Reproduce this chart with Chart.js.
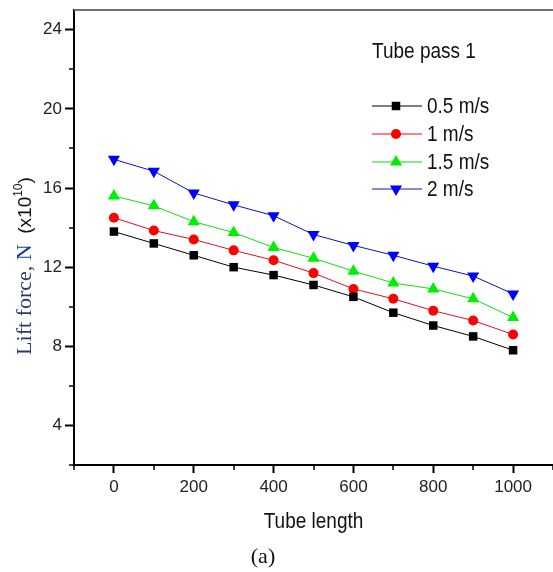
<!DOCTYPE html>
<html>
<head>
<meta charset="utf-8">
<script src="https://cdn.jsdelivr.net/npm/chart.js@4/dist/chart.umd.min.js"></script>
<style>
html,body{margin:0;padding:0;background:#fff;}
#wrap{width:553px;height:572px;position:relative;}
</style>
</head>
<body>
<div id="wrap"><canvas id="c" width="553" height="572"></canvas></div>
<script>
// ---- data ----
const tubeLength = [0, 100, 200, 300, 400, 500, 600, 700, 800, 900, 1000];
const seriesNames = ['0.5 m/s', '1 m/s', '1.5 m/s', '2 m/s'];
const v05 = [13.8, 13.2, 12.6, 12.0, 11.6, 11.1, 10.5, 9.7, 9.05, 8.5, 7.8];
const v1  = [14.5, 13.85, 13.4, 12.85, 12.35, 11.7, 10.9, 10.4, 9.8, 9.3, 8.6];
const v15 = [15.6, 15.1, 14.3, 13.75, 13.0, 12.45, 11.8, 11.2, 10.9, 10.4, 9.45];
const v2  = [17.45, 16.85, 15.75, 15.15, 14.6, 13.65, 13.1, 12.6, 12.05, 11.55, 10.65];
const xMajorTicks = [0, 200, 400, 600, 800, 1000];
const yMajorTicks = [4, 8, 12, 16, 20, 24];
const panelTitle = 'Tube pass 1';
const xTitle = 'Tube length';
const panelLabel = '(a)';

const toXY = arr => arr.map((v, i) => ({x: tubeLength[i], y: v}));

const styles = [
  {color: '#000000', line: '#000000', pointStyle: 'rect', radius: 6, rotation: 0},
  {color: '#ff0000', line: '#e0101a', pointStyle: 'circle', radius: 5, rotation: 0},
  {color: '#00ee00', line: '#10dd10', pointStyle: 'triangle', radius: 7, rotation: 0},
  {color: '#0000ff', line: '#1010c0', pointStyle: 'triangle', radius: 7, rotation: 180}
];
const seriesValues = [v05, v1, v15, v2];

const datasets = seriesValues.map((vals, i) => ({
  label: seriesNames[i],
  data: toXY(vals),
  borderColor: styles[i].line,
  borderWidth: 1,
  backgroundColor: styles[i].color,
  pointBackgroundColor: styles[i].color,
  pointBorderColor: styles[i].color,
  pointBorderWidth: 0,
  pointStyle: styles[i].pointStyle,
  pointRadius: styles[i].radius,
  pointRotation: styles[i].rotation,
  tension: 0,
  fill: false
}));

const isMajorX = v => xMajorTicks.includes(v);
const isMajorY = v => yMajorTicks.includes(v);

// draw text stretched vertically a little (the reference lettering is tall)
function tallText(ctx, txt, x, y, sy) {
  ctx.save();
  ctx.translate(x, y);
  ctx.scale(1, sy);
  ctx.fillText(txt, 0, 0);
  ctx.restore();
}

const decor = {
  id: 'decor',
  afterDraw(chart) {
    const ctx = chart.ctx;
    const a = chart.chartArea;
    const xs = chart.scales.x, ys = chart.scales.y;
    ctx.save();
    // top border
    ctx.strokeStyle = '#707070';
    ctx.lineWidth = 2;
    ctx.beginPath();
    ctx.moveTo(a.left, a.top);
    ctx.lineTo(chart.width, a.top);
    ctx.stroke();
    // minor ticks
    ctx.strokeStyle = '#000';
    ctx.lineWidth = 1.5;
    xs.ticks.forEach(t => {
      if (!isMajorX(t.value)) {
        const px = Math.round(xs.getPixelForValue(t.value));
        ctx.beginPath();
        ctx.moveTo(px, a.bottom);
        ctx.lineTo(px, a.bottom + 5);
        ctx.stroke();
      }
    });
    ys.ticks.forEach(t => {
      if (!isMajorY(t.value)) {
        const py = Math.round(ys.getPixelForValue(t.value));
        ctx.beginPath();
        ctx.moveTo(a.left, py);
        ctx.lineTo(a.left - 5, py);
        ctx.stroke();
      }
    });
    const sansF = '"Liberation Sans", Arial, sans-serif';
    // panel title
    ctx.fillStyle = '#111';
    ctx.font = '19px ' + sansF;
    ctx.textAlign = 'left';
    ctx.textBaseline = 'middle';
    tallText(ctx, panelTitle, 372, 52, 1.15);
    // legend
    const rows = [106, 134, 162, 189];
    chart.data.datasets.forEach((ds, i) => {
      const y = rows[i];
      ctx.strokeStyle = ds.borderColor;
      ctx.lineWidth = 1.2;
      ctx.beginPath();
      ctx.moveTo(372, y);
      ctx.lineTo(422, y);
      ctx.stroke();
      ctx.fillStyle = ds.pointBackgroundColor;
      ctx.strokeStyle = ds.pointBorderColor;
      Chart.helpers.drawPoint(ctx, {pointStyle: ds.pointStyle, rotation: ds.pointRotation, radius: ds.pointRadius, borderWidth: 0}, 396, y);
      ctx.fillStyle = '#111';
      ctx.font = '19px ' + sansF;
      ctx.textAlign = 'left';
      ctx.textBaseline = 'middle';
      tallText(ctx, ds.label, 427, y + 1, 1.15);
    });
    // x title
    ctx.fillStyle = '#111';
    ctx.font = '19px ' + sansF;
    ctx.textAlign = 'center';
    ctx.textBaseline = 'middle';
    tallText(ctx, xTitle, (a.left + a.right) / 2, 522, 1.15);
    // panel label
    ctx.font = '22px "Liberation Serif", "Times New Roman", serif';
    ctx.fillText(panelLabel, 263, 557);
    // y title (rotated, mixed fonts)
    ctx.translate(31, 266);
    ctx.rotate(-Math.PI / 2);
    ctx.textBaseline = 'alphabetic';
    ctx.textAlign = 'left';
    const p1 = 'Lift force, ';
    const p2 = 'N';
    const p3 = '  (x10';
    const p4 = '10';
    const p5 = ')';
    const serif = '22px "Liberation Serif", "Times New Roman", serif';
    const sans = '19px ' + sansF;
    const sup = '12px ' + sansF;
    ctx.font = serif; const w1 = ctx.measureText(p1).width; const w2 = ctx.measureText(p2).width;
    ctx.font = sans; const w3 = ctx.measureText(p3).width; const w5 = ctx.measureText(p5).width;
    ctx.font = sup; const w4 = ctx.measureText(p4).width;
    const total = w1 + w2 + w3 + w4 + w5;
    let x0 = -total / 2;
    ctx.font = serif; ctx.fillStyle = '#2a3b6b'; ctx.fillText(p1, x0, 0); x0 += w1;
    ctx.fillStyle = '#1a3a9a'; ctx.fillText(p2, x0, 0); x0 += w2;
    ctx.font = sans; ctx.fillStyle = '#111'; ctx.fillText(p3, x0, 0); x0 += w3;
    ctx.font = sup; ctx.fillText(p4, x0, -9); x0 += w4;
    ctx.font = sans; ctx.fillText(p5, x0, 0);
    ctx.restore();
  }
};

new Chart(document.getElementById('c'), {
  type: 'line',
  data: {datasets},
  options: {
    responsive: false,
    devicePixelRatio: 1,
    animation: false,
    layout: {autoPadding: false, padding: {top: 10, right: 0, left: 0, bottom: 0}},
    plugins: {legend: {display: false}, tooltip: {enabled: false}, title: {display: false}},
    scales: {
      x: {
        type: 'linear',
        min: -100, max: 1100,
        afterFit(s) { s.height = 107; s.paddingRight = 0; s.paddingLeft = 0; },
        border: {display: true, color: '#000', width: 2},
        grid: {
          drawOnChartArea: false, drawTicks: true, tickLength: 8,
          tickWidth: 2,
          tickColor: c => (c.tick && isMajorX(c.tick.value)) ? '#000' : 'rgba(0,0,0,0)'
        },
        ticks: {
          stepSize: 100, autoSkip: false, maxRotation: 0, padding: 4,
          color: '#222',
          font: {family: '"Liberation Sans", Arial, sans-serif', size: 17},
          callback: v => isMajorX(v) ? String(v) : ''
        }
      },
      y: {
        type: 'linear',
        min: 2, max: 25,
        afterFit(s) { s.width = 74; s.paddingTop = 0; s.paddingBottom = 0; },
        border: {display: true, color: '#000', width: 2},
        grid: {
          drawOnChartArea: false, drawTicks: true, tickLength: 9,
          tickWidth: 2,
          tickColor: c => (c.tick && isMajorY(c.tick.value)) ? '#000' : 'rgba(0,0,0,0)'
        },
        ticks: {
          stepSize: 2, includeBounds: false, autoSkip: false, padding: 3,
          color: '#222',
          font: {family: '"Liberation Sans", Arial, sans-serif', size: 17},
          callback: v => isMajorY(v) ? String(v) : ''
        }
      }
    }
  },
  plugins: [decor]
});
</script>
</body>
</html>
